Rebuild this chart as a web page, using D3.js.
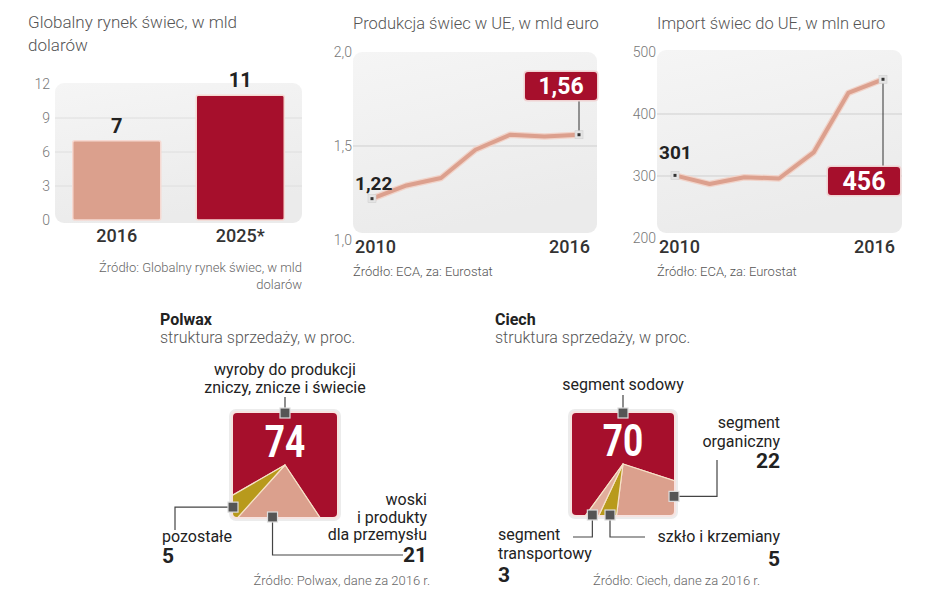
<!DOCTYPE html>
<html><head><meta charset="utf-8">
<script src="https://cdn.jsdelivr.net/npm/d3@7"></script>
<style>
body{margin:0;background:#fff}
svg{display:block;font-family:Roboto,"Noto Sans",sans-serif}
</style>
</head><body>
<svg id="c" width="948" height="593"></svg>
<script>
// ---------- DATA ----------
const barTitle = ["Globalny rynek świec, w mld", "dolarów"];
const barSource = ["Źródło: Globalny rynek świec, w mld", "dolarów"];
const barCategories = ["2016", "2025*"];
const barValues = [7, 11];
const barTicks = [0, 3, 6, 9, 12];

const years = [2010, 2011, 2012, 2013, 2014, 2015, 2016];
const productionTitle = "Produkcja świec w UE, w mld euro";
const productionValues = [1.22, 1.29, 1.33, 1.48, 1.56, 1.55, 1.56];
const productionTicks = [1.0, 1.5, 2.0];
const importTitle = "Import świec do UE, w mln euro";
const importValues = [301, 287, 298, 296, 338, 434, 456];
const importTicks = [200, 300, 400, 500];
const lineSource = "Źródło: ECA, za: Eurostat";

const polwaxTitle = ["Polwax", "struktura sprzedaży, w proc."];
const polwaxCategories = [
  ["wyroby do produkcji", "zniczy, znicze i świecie"],
  ["woski", "i produkty", "dla przemysłu"],
  ["pozostałe"]
];
const polwaxValues = [74, 21, 5];
const polwaxSource = "Źródło: Polwax, dane za 2016 r.";

const ciechTitle = ["Ciech", "struktura sprzedaży, w proc."];
const ciechCategories = [
  ["segment sodowy"],
  ["segment", "organiczny"],
  ["szkło i krzemiany"],
  ["segment", "transportowy"]
];
const ciechValues = [70, 22, 5, 3];
const ciechSource = "Źródło: Ciech, dane za 2016 r.";

// ---------- STYLE ----------
const RED = "#a60f2c", PEACH = "#dba08d", GOLD = "#b89a1c", PEACH2 = "#e1ad9c";
const fmt = d3.formatLocale({decimal: ",", thousands: " ", grouping: [3], currency: ["", ""]});
const f1 = fmt.format(".1f"), f2 = fmt.format(".2f"), f0 = fmt.format("d");

const svg = d3.select("#c");
svg.append("rect").attr("width", 948).attr("height", 593).attr("fill", "#fff");
const defs = svg.append("defs");
const grad = defs.append("linearGradient").attr("id", "pg").attr("x1", 0).attr("y1", 0).attr("x2", 0.3).attr("y2", 1);
grad.append("stop").attr("offset", 0).attr("stop-color", "#f5f5f5");
grad.append("stop").attr("offset", 1).attr("stop-color", "#ebebeb");

function txt(g, x, y, s, o = {}) {
  return g.append("text").attr("x", x).attr("y", y).text(s)
    .attr("font-size", o.size || 16).attr("fill", o.fill || "#222")
    .attr("font-weight", o.weight || 400).attr("text-anchor", o.anchor || "start")
    .attr("font-family", o.family || null);
}

// ---------- BAR CHART ----------
(function () {
  const g = svg.append("g");
  barTitle.forEach((t, i) => txt(g, 28, 28 + i * 23, t, {size: 17, fill: "#555", weight: 300}));
  const y = d3.scaleLinear().domain([0, 12]).range([220, 84]);
  const x = d3.scalePoint().domain(barCategories).range([55, 302]).padding(0.5);
  g.append("rect").attr("x", 55).attr("y", 83).attr("width", 247).attr("height", 140).attr("rx", 9).attr("fill", "url(#pg)");
  g.selectAll(".gl").data(barTicks.filter(d => d > 0 && d < 12)).join("line")
    .attr("x1", 55).attr("x2", 302).attr("y1", d => y(d)).attr("y2", d => y(d))
    .attr("stroke", "#dedede").attr("stroke-width", 1);
  const ax = g.append("g").attr("transform", "translate(50,0)")
    .call(d3.axisLeft(y).tickValues(barTicks).tickSize(0).tickPadding(0).tickFormat(f0));
  ax.select(".domain").remove();
  ax.selectAll("text").attr("font-size", 14).attr("fill", "#777").attr("font-family", "Roboto").attr("font-weight", 300);
  const cols = [PEACH, RED];
  g.selectAll(".bar").data(barValues).join("rect")
    .attr("x", (d, i) => x(barCategories[i]) - 44).attr("width", 88)
    .attr("y", d => y(d)).attr("height", d => y(0) - y(d))
    .attr("rx", 2).attr("fill", (d, i) => cols[i])
    .attr("stroke", "#f6d9d2").attr("stroke-width", 1.5);
  barValues.forEach((v, i) => txt(g, x(barCategories[i]), y(v) - 8, f0(v), {size: 20, weight: 700, anchor: "middle"}));
  barCategories.forEach(c => txt(g, x(c), 242, c, {size: 18, weight: 500, anchor: "middle", fill: "#333"}));
  barSource.forEach((t, i) => txt(g, 302, 272 + i * 17, t, {size: 13, fill: "#666", weight: 300, anchor: "end"}));
})();

// ---------- LINE CHARTS ----------
function lineChart(o) {
  const g = svg.append("g");
  txt(g, o.px, 29, o.title, {size: 16.5, fill: "#555", weight: 300});
  g.append("rect").attr("x", o.px).attr("y", o.py).attr("width", o.pw).attr("height", o.ph).attr("rx", 9).attr("fill", "url(#pg)");
  const x = d3.scalePoint().domain(years).range(o.xr);
  const y = d3.scaleLinear().domain(o.domain).range(o.yr);
  g.selectAll(".gl").data(o.grid).join("line")
    .attr("x1", o.px).attr("x2", o.px + o.pw).attr("y1", d => y(d)).attr("y2", d => y(d))
    .attr("stroke", "#cfcfcf").attr("stroke-width", 1);
  const ax = g.append("g").attr("transform", `translate(${o.px - 1},0)`)
    .call(d3.axisLeft(y).tickValues(o.ticks).tickSize(0).tickPadding(0).tickFormat(o.tf));
  ax.select(".domain").remove();
  ax.selectAll("text").attr("font-size", 14).attr("fill", "#777").attr("font-family", "Roboto").attr("font-weight", 300);
  const line = d3.line().x((d, i) => x(years[i])).y(d => y(d));
  g.append("path").datum(o.values).attr("d", line).attr("fill", "none")
    .attr("stroke", "#f1d3c9").attr("stroke-width", 6.5).attr("stroke-linejoin", "round");
  g.append("path").datum(o.values).attr("d", line).attr("fill", "none")
    .attr("stroke", "#dca08e").attr("stroke-width", 4).attr("stroke-linejoin", "round");
  const n = o.values.length - 1;
  const lx = x(years[n]), ly = y(o.values[n]);
  g.append("line").attr("x1", lx).attr("x2", lx).attr("y1", ly).attr("y2", o.boxY > ly ? o.boxY : o.boxY + o.boxH)
    .attr("stroke", "#333").attr("stroke-width", 1);
  [0, n].forEach(i => {
    const cx = x(years[i]), cy = y(o.values[i]);
    g.append("rect").attr("x", cx - 4).attr("y", cy - 4).attr("width", 8).attr("height", 8)
      .attr("fill", "#e4e4e4").attr("stroke", "#d0d0d0").attr("stroke-width", 0.6);
    g.append("rect").attr("x", cx - 1.5).attr("y", cy - 1.5).attr("width", 3).attr("height", 3).attr("fill", "#333");
  });
  txt(g, o.px + 2, o.firstLabelY, o.fmt(o.values[0]), {size: 19, weight: 700});
  g.append("rect").attr("x", o.boxX - 1.5).attr("y", o.boxY - 1.5).attr("width", o.boxW + 3).attr("height", o.boxH + 3)
    .attr("rx", 4).attr("fill", "#f0d2d2");
  g.append("rect").attr("x", o.boxX).attr("y", o.boxY).attr("width", o.boxW).attr("height", o.boxH)
    .attr("rx", 3).attr("fill", RED);
  txt(g, o.boxX + o.boxW / 2, o.boxY + o.boxH / 2 + o.boxFs * 0.36, o.fmt(o.values[n]), {size: o.boxFs, weight: 700, fill: "#fff", anchor: "middle"});
  txt(g, o.px + 2, 253, String(years[0]), {size: 18, weight: 500, fill: "#333"});
  txt(g, o.px + o.pw - 7, 253, String(years[n]), {size: 18, weight: 500, fill: "#333", anchor: "end"});
  txt(g, o.px, 276, lineSource, {size: 13, fill: "#555", weight: 300});
}
lineChart({title: productionTitle, values: productionValues, ticks: productionTicks, grid: [1.5],
  domain: [1, 2], yr: [240, 52], xr: [372, 579], px: 353, py: 52, pw: 244, ph: 181,
  tf: f1, fmt: f2, firstLabelY: 190, boxX: 525, boxY: 72, boxW: 72, boxH: 28, boxFs: 23});
lineChart({title: importTitle, values: importValues, ticks: importTicks, grid: [300, 400],
  domain: [200, 500], yr: [238, 52], xr: [675, 883], px: 657, py: 50, pw: 245, ph: 183,
  tf: f0, fmt: f0, firstLabelY: 159, boxX: 828, boxY: 167, boxW: 72, boxH: 28, boxFs: 25});

// ---------- SQUARE PIES ----------
function squarePie(o) {
  const g = svg.append("g");
  txt(g, o.tx, 325, o.title[0], {size: 16, weight: 700});
  txt(g, o.tx, 343, o.title[1], {size: 16, fill: "#555", weight: 300});
  const h = o.half;
  const id = "clip" + o.tx;
  defs.append("clipPath").attr("id", id).append("rect")
    .attr("x", o.cx - h).attr("y", o.cy - h).attr("width", 2 * h).attr("height", 2 * h).attr("rx", 4);
  g.append("rect").attr("x", o.cx - h - 4).attr("y", o.cy - h - 4).attr("width", 2 * h + 8).attr("height", 2 * h + 8)
    .attr("rx", 7).attr("fill", "#ececec");
  g.append("rect").attr("x", o.cx - h - 2).attr("y", o.cy - h - 2).attr("width", 2 * h + 4).attr("height", 2 * h + 4)
    .attr("rx", 5).attr("fill", "#f7e3e0");
  const pie = d3.pie().sort(null).startAngle(o.start).endAngle(o.start + 2 * Math.PI);
  const arc = d3.arc().innerRadius(0).outerRadius(h * 1.6);
  g.append("g").attr("clip-path", `url(#${id})`)
    .append("g").attr("transform", `translate(${o.cx},${o.cy})`)
    .selectAll("path").data(pie(o.values)).join("path")
    .attr("d", arc).attr("fill", (d, i) => o.colors[i])
    .attr("stroke", "#f6e1c8").attr("stroke-width", 1.2).attr("stroke-linejoin", "round");
  g.append("text").attr("transform", `translate(${o.cx},${o.cy - 8}) scale(0.8,1)`)
    .attr("text-anchor", "middle").attr("font-size", 44).attr("font-weight", 700).attr("fill", "#fff")
    .text(f0(o.values[0]));
  const pt = a => {
    const s = Math.sin(a), c = -Math.cos(a);
    const t = h / Math.max(Math.abs(s), Math.abs(c));
    return [o.cx + s * t, o.cy + c * t];
  };
  o.labels.forEach((L, i) => {
    const p = pt(L.angle * Math.PI / 180);
    const path = [p].concat(L.path.map(q => [q[0] === null ? p[0] : q[0], q[1] === null ? p[1] : q[1]]));
    g.append("path").attr("d", d3.line()(path)).attr("fill", "none").attr("stroke", "#444").attr("stroke-width", 1.2);
    g.append("rect").attr("x", p[0] - 5).attr("y", p[1] - 5).attr("width", 10).attr("height", 10)
      .attr("fill", "#555").attr("stroke", "#ddd").attr("stroke-width", 1.2);
    o.categories[i].forEach((t, j) => txt(g, L.x, L.y + j * L.lh, t, {size: 16, anchor: L.anchor, fill: "#222"}));
    if (i > 0) txt(g, L.x, L.vy, f0(o.values[i]), {size: 21, weight: 700, anchor: L.anchor});
  });
  txt(g, o.srcX, 585, o.source, {size: 13, fill: "#666", weight: 300, anchor: "end"});
}
squarePie({title: polwaxTitle, tx: 160, cx: 285, cy: 465, half: 52, start: -2 * Math.PI / 3,
  values: polwaxValues, categories: polwaxCategories, colors: [RED, PEACH, GOLD],
  source: polwaxSource, srcX: 430,
  labels: [
    {angle: 0, path: [[null, 397]], x: 285, y: 375, lh: 17.5, anchor: "middle"},
    {angle: 193.5, path: [[null, 555], [403, 555]], x: 427, y: 505, lh: 17.5, anchor: "end", vy: 562},
    {angle: 231, path: [[175, null], [175, 530]], x: 162, y: 542, lh: 17, anchor: "start", vy: 563}
  ]});
squarePie({title: ciechTitle, tx: 495, cx: 623, cy: 464, half: 51, start: -0.4 * 2 * Math.PI,
  values: ciechValues, categories: ciechCategories, colors: [RED, PEACH, GOLD, PEACH2],
  source: ciechSource, srcX: 760,
  labels: [
    {angle: 0, path: [[null, 395]], x: 623, y: 390, lh: 17, anchor: "middle"},
    {angle: 122.4, path: [[717, null], [717, 460]], x: 780, y: 428, lh: 19, anchor: "end", vy: 468},
    {angle: 194.3, path: [[null, 537], [645, 537]], x: 780, y: 542, lh: 17, anchor: "end", vy: 566},
    {angle: 211, path: [[null, 537], [573, 537]], x: 498, y: 540, lh: 19, anchor: "start", vy: 582}
  ]});
</script>
</body></html>
